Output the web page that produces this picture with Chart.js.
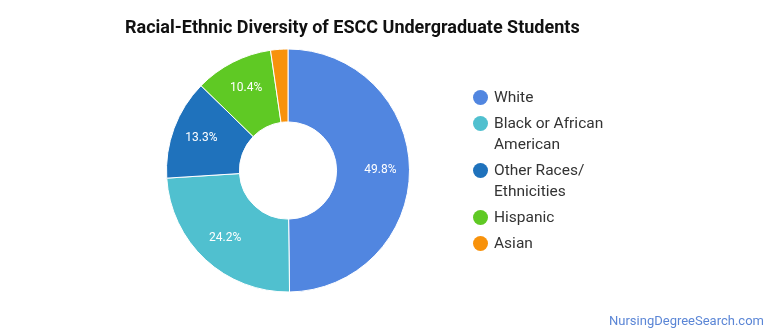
<!DOCTYPE html>
<html>
<head>
<meta charset="utf-8">
<script src="https://cdn.jsdelivr.net/npm/chart.js@4/dist/chart.umd.min.js"></script>
<style>
  html, body { margin: 0; padding: 0; background: #fff; }
  .wrap { position: relative; width: 770px; height: 335px; font-family: Roboto, sans-serif; }
  #myChart { position: absolute; left: 0; top: 0; }
  .title { position: absolute; left: 125px; top: 16px; font-size: 18px; font-weight: bold; color: #111; white-space: nowrap; }
  .legend { position: absolute; left: 473px; top: 87px; }
  .leg-item { position: relative; padding-left: 21px; font-size: 15.5px; line-height: 21px; color: #333; margin-bottom: 5px; width: 140px; }
  .leg-dot { position: absolute; left: 0; top: 3px; width: 15px; height: 15px; border-radius: 50%; }
  .credit { position: absolute; right: 6px; top: 313px; font-size: 13px; color: #5b86d6; }
</style>
</head>
<body>
<div class="wrap">
  <canvas id="myChart" width="770" height="335"></canvas>
  <div class="title">Racial-Ethnic Diversity of ESCC Undergraduate Students</div>
  <div class="legend" id="legend"></div>
  <div class="credit">NursingDegreeSearch.com</div>
</div>
<script>
const groups = ["White", "Black or African American", "Other Races/ Ethnicities", "Hispanic", "Asian"];
const legendLines = [["White"], ["Black or African", "American"], ["Other Races/", "Ethnicities"], ["Hispanic"], ["Asian"]];
const shares = [49.8, 24.2, 13.3, 10.4, 2.3];
const colors = ["#5186e0", "#50c0cf", "#1f72bc", "#5fc924", "#f8920b"];

// legend built next to the chart
let legendEl = document.getElementById("legend");
for (let i = 0; i < groups.length; i++) {
  let div = document.createElement("div");
  div.className = "leg-item";
  let dot = document.createElement("span");
  dot.className = "leg-dot";
  dot.style.background = colors[i];
  div.appendChild(dot);
  div.appendChild(document.createTextNode(legendLines[i][0]));
  for (let j = 1; j < legendLines[i].length; j++) {
    div.appendChild(document.createElement("br"));
    div.appendChild(document.createTextNode(legendLines[i][j]));
  }
  legendEl.appendChild(div);
}

// percentage labels, a bit outside the middle of each slice
const sliceLabels = {
  id: "sliceLabels",
  afterDatasetsDraw: function (chart) {
    const ctx = chart.ctx;
    const meta = chart.getDatasetMeta(0);
    ctx.save();
    ctx.fillStyle = "#fff";
    ctx.font = "12px Roboto";
    ctx.textAlign = "center";
    ctx.textBaseline = "middle";
    meta.data.forEach(function (arc, i) {
      if (shares[i] < 5) return;
      const p = arc.getProps(["x", "y", "startAngle", "endAngle", "innerRadius", "outerRadius"]);
      const mid = (p.startAngle + p.endAngle) / 2;
      const r = p.innerRadius + 0.6 * (p.outerRadius - p.innerRadius);
      ctx.fillText(shares[i].toFixed(1) + "%", p.x + Math.cos(mid) * r, p.y + Math.sin(mid) * r);
    });
    ctx.restore();
  },
};

let ctx = document.getElementById("myChart");
const myChart = new Chart(ctx, {
  type: "doughnut",
  data: {
    labels: groups,
    datasets: [
      {
        data: shares,
        backgroundColor: colors,
        borderColor: "#fff",
        borderWidth: 1,
      },
    ],
  },
  options: {
    responsive: false,
    animation: false,
    cutout: "40%",
    layout: {
      padding: { left: 166, right: 360, top: 48, bottom: 42 },
    },
    plugins: {
      legend: { display: false },
      title: { display: false },
      tooltip: { enabled: false },
    },
  },
  plugins: [sliceLabels],
});
</script>
</body>
</html>
